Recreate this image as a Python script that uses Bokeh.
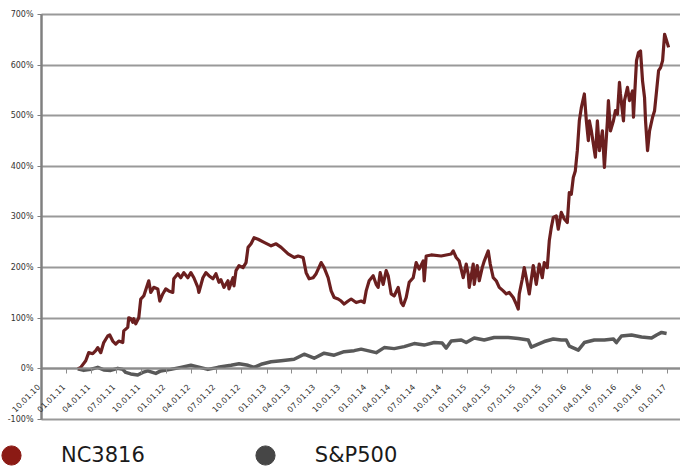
import numpy as np
import pandas as pd
from bokeh.plotting import figure
from bokeh.models import (Range1d, FixedTicker, PrintfTickFormatter, Legend, LegendItem,
                          ColumnDataSource)
from bokeh.core.properties import value
from bokeh.embed import file_html
from bokeh.resources import INLINE

# ---- data (decimal years, cumulative return in %) ----
nc_year = [2011.11, 2011.14, 2011.19, 2011.22, 2011.26, 2011.29, 2011.31, 2011.34, 2011.37, 2011.41,
           2011.43, 2011.46, 2011.49, 2011.52, 2011.56, 2011.57, 2011.61, 2011.62, 2011.64, 2011.66,
           2011.67, 2011.69, 2011.72, 2011.74, 2011.77, 2011.81, 2011.82, 2011.84, 2011.87, 2011.91,
           2011.93, 2011.96, 2011.99, 2012.02, 2012.06, 2012.07, 2012.11, 2012.14, 2012.17, 2012.21,
           2012.24, 2012.27, 2012.31, 2012.32, 2012.36, 2012.39, 2012.42, 2012.46, 2012.49, 2012.52,
           2012.54, 2012.57, 2012.61, 2012.62, 2012.66, 2012.67, 2012.69, 2012.72, 2012.76, 2012.79,
           2012.81, 2012.84, 2012.87, 2012.91, 2012.97, 2013.04, 2013.09, 2013.14, 2013.21, 2013.27,
           2013.31, 2013.36, 2013.39, 2013.42, 2013.46, 2013.49, 2013.54, 2013.57, 2013.61, 2013.64,
           2013.67, 2013.71, 2013.74, 2013.77, 2013.81, 2013.84, 2013.89, 2013.94, 2013.97, 2013.99,
           2014.02, 2014.06, 2014.09, 2014.11, 2014.13, 2014.16, 2014.19, 2014.21, 2014.24, 2014.27,
           2014.31, 2014.34, 2014.36, 2014.39, 2014.42, 2014.46, 2014.49, 2014.52, 2014.56, 2014.57,
           2014.59, 2014.64, 2014.74, 2014.79, 2014.84, 2014.86, 2014.89, 2014.92, 2014.96, 2014.99,
           2015.01, 2015.02, 2015.06, 2015.07, 2015.10, 2015.12, 2015.15, 2015.17, 2015.21, 2015.23,
           2015.26, 2015.29, 2015.32, 2015.36, 2015.39, 2015.42, 2015.46, 2015.49, 2015.51, 2015.52,
           2015.55, 2015.57, 2015.59, 2015.62, 2015.66, 2015.69, 2015.72, 2015.75, 2015.77, 2015.80,
           2015.82, 2015.84, 2015.86, 2015.89, 2015.91, 2015.94, 2015.97, 2016.00, 2016.02, 2016.04,
           2016.06, 2016.08, 2016.10, 2016.12, 2016.14, 2016.17, 2016.19, 2016.21, 2016.22, 2016.24,
           2016.26, 2016.28, 2016.30, 2016.32, 2016.35, 2016.37, 2016.40, 2016.41, 2016.43, 2016.46,
           2016.48, 2016.50, 2016.52, 2016.53, 2016.56, 2016.57, 2016.60, 2016.62, 2016.65, 2016.66,
           2016.67, 2016.69, 2016.71, 2016.73, 2016.75, 2016.77, 2016.78, 2016.80, 2016.82, 2016.85,
           2016.87, 2016.89, 2016.91, 2016.93, 2016.95, 2016.97, 2016.99, 2017.01]
nc_pct = [0, 3, 16, 32, 30, 36, 42, 32, 52, 65,
          67, 55, 49, 55, 52, 75, 82, 101, 99, 92,
          99, 89, 101, 138, 144, 168, 174, 151, 161, 158,
          134, 148, 158, 154, 151, 178, 188, 180, 190, 180,
          190, 180, 161, 151, 180, 190, 184, 178, 188, 171,
          176, 161, 174, 158, 180, 164, 194, 204, 200, 210,
          240, 247, 259, 256, 250, 243, 247, 240, 227, 220,
          223, 220, 190, 178, 180, 188, 210, 200, 180, 154,
          141, 138, 134, 128, 134, 138, 131, 134, 131, 154,
          174, 184, 167, 161, 190, 167, 194, 184, 148, 144,
          161, 131, 125, 141, 171, 180, 210, 197, 213, 174,
          223, 225, 223, 225, 227, 233, 220, 213, 180, 207,
          187, 161, 207, 167, 204, 174, 200, 213, 233, 207,
          180, 174, 161, 154, 148, 151, 141, 128, 118, 148,
          177, 200, 180, 148, 204, 167, 207, 180, 210, 200,
          253, 279, 299, 302, 276, 309, 296, 289, 348, 345,
          378, 391, 431, 490, 516, 543, 490, 451, 490, 470,
          444, 418, 490, 431, 470, 398, 490, 530, 470, 490,
          510, 503, 566, 543, 490, 530, 556, 530, 549, 497,
          536, 609, 625, 628, 569, 536, 490, 431, 470, 497,
          510, 549, 589, 595, 609, 661, 648, 635]

sp_year = [2011.11, 2011.17, 2011.24, 2011.31, 2011.37, 2011.44, 2011.51, 2011.56, 2011.59, 2011.64,
           2011.71, 2011.76, 2011.81, 2011.89, 2011.94, 2012.04, 2012.14, 2012.24, 2012.31, 2012.41,
           2012.51, 2012.64, 2012.72, 2012.81, 2012.87, 2012.94, 2013.04, 2013.14, 2013.27, 2013.37,
           2013.47, 2013.57, 2013.67, 2013.77, 2013.87, 2013.94, 2014.09, 2014.17, 2014.27, 2014.37,
           2014.47, 2014.57, 2014.67, 2014.75, 2014.79, 2014.84, 2014.94, 2014.99, 2015.07, 2015.17,
           2015.27, 2015.41, 2015.51, 2015.61, 2015.64, 2015.71, 2015.77, 2015.86, 2015.94, 2015.99,
           2016.02, 2016.11, 2016.17, 2016.27, 2016.37, 2016.46, 2016.49, 2016.54, 2016.64, 2016.74,
           2016.84, 2016.89, 2016.94, 2016.99]
sp_pct = [0, -3, -1, 3, -2, -3, 1, -1, -7, -10,
          -12, -7, -4, -9, -4, -1, 3, 7, 4, -1,
          3, 7, 10, 7, 3, 9, 14, 16, 19, 29,
          21, 31, 27, 34, 36, 39, 32, 42, 40, 44,
          50, 47, 52, 51, 41, 55, 57, 52, 61, 57,
          62, 62, 60, 57, 43, 49, 54, 59, 57, 57,
          45, 37, 52, 57, 57, 59, 52, 65, 67, 63,
          61, 67, 72, 70]

x_tick_labels = ["10.01.10", "01.01.11", "04.01.11", "07.01.11", "10.01.11", "01.01.12", "04.01.12",
                 "07.01.12", "10.01.12", "01.01.13", "04.01.13", "07.01.13", "10.01.13", "01.01.14",
                 "04.01.14", "07.01.14", "10.01.14", "01.01.15", "04.01.15", "07.01.15", "10.01.15",
                 "01.01.16", "04.01.16", "07.01.16", "10.01.16", "01.01.17"]
y_ticks = [-100, 0, 100, 200, 300, 400, 500, 600, 700]
series_names = ["NC3816", "S&P500"]


def to_dates(years):
    out = []
    for y in years:
        yi = int(y)
        a = pd.Timestamp(year=yi, month=1, day=1)
        b = pd.Timestamp(year=yi + 1, month=1, day=1)
        out.append(a + (b - a) * (y - yi))
    return out


def to_ms(d):
    return (d - pd.Timestamp("1970-01-01")) / pd.Timedelta(milliseconds=1)


nc_dates = to_dates(nc_year)
sp_dates = to_dates(sp_year)
tick_dates = list(pd.to_datetime(x_tick_labels, format="%m.%d.%y"))
tick_ms = [to_ms(d) for d in tick_dates]

FONT = "DejaVu Sans"
W, H = 680, 468
PLOT_LEFT = 41           # px where the plotting area starts
X_START = pd.Timestamp("2010-10-01")
X_END = pd.Timestamp("2017-02-17")
# the frame covers the whole canvas; the y axis sits at X_START, the legend strip below -100%
x_lo = X_START - (X_END - X_START) * PLOT_LEFT / (W - PLOT_LEFT)
Y_TOP, Y_BOT = 727.65, -196.8

p = figure(width=W, height=H, x_axis_type="datetime", output_backend="svg",
           toolbar_location=None,
           x_range=Range1d(x_lo, X_END), y_range=Range1d(Y_BOT, Y_TOP),
           min_border_left=0, min_border_right=0, min_border_top=0, min_border_bottom=0)
p.outline_line_color = None
p.background_fill_color = "white"

# y axis (at the start of the time range) and horizontal grid
p.yaxis.fixed_location = to_ms(X_START)
p.yaxis.bounds = (y_ticks[0], y_ticks[-1])
p.yaxis.ticker = FixedTicker(ticks=y_ticks)
p.yaxis.formatter = PrintfTickFormatter(format="%d%%")
p.yaxis.major_tick_out = 4
p.yaxis.major_tick_in = 0
p.yaxis.minor_tick_line_color = None
p.yaxis.axis_line_color = "#7f7f7f"
p.yaxis.axis_line_width = 2
p.yaxis.major_tick_line_color = "#7f7f7f"
p.yaxis.major_label_standoff = 4
p.yaxis.major_label_text_font = FONT
p.yaxis.major_label_text_font_size = "8px"
p.yaxis.major_label_text_color = "#333333"

p.xgrid.grid_line_color = None
try:
    p.ygrid.ticker = FixedTicker(ticks=y_ticks)
    p.ygrid.cross_bounds = (to_ms(X_START), to_ms(X_END))
    p.ygrid.grid_line_color = "#999999"
    p.ygrid.grid_line_width = 2
except Exception:
    p.ygrid.grid_line_color = None
    n = len(y_ticks)
    p.segment(x0=[X_START] * n, x1=[X_END] * n, y0=y_ticks, y1=y_ticks,
              line_color="#999999", line_width=2, level="underlay")

# vertical axis rule over the value span
p.segment(x0=[X_START], x1=[X_START], y0=[y_ticks[0]], y1=[y_ticks[-1]],
          line_color="#8a8a8a", line_width=2)

# x axis crossing at 0%
p.xaxis.fixed_location = 0
p.xaxis.bounds = (X_START, X_END)
p.xaxis.ticker = FixedTicker(ticks=tick_ms)
p.xaxis.major_label_text_font_size = "0px"
p.xaxis.major_label_text_alpha = 0
p.xaxis.major_tick_out = 5
p.xaxis.major_tick_in = 0
p.xaxis.minor_tick_line_color = None
p.xaxis.axis_line_color = "#8c8c8c"
p.xaxis.axis_line_width = 2
p.xaxis.major_tick_line_color = "#8c8c8c"

tick_src = ColumnDataSource(dict(x=tick_dates, y=[0] * len(tick_dates), t=x_tick_labels))
try:
    from bokeh.models import HTMLLabelSet
    p.add_layout(HTMLLabelSet(x="x", y="y", text="t", source=tick_src, angle=np.pi / 4,
                              text_align="right", text_baseline="middle",
                              x_offset=-2, y_offset=-17.5,
                              text_font=value(FONT), text_font_size="8px",
                              text_color="#333333"))
except Exception:
    p.text(x="x", y="y", text="t", source=tick_src, angle=np.pi / 4,
           text_align="right", text_baseline="middle", x_offset=-1, y_offset=15,
           text_font=value(FONT), text_font_size="8px", text_color="#333333")

# series
p.line(sp_dates, sp_pct, line_color="#595959", line_width=3.5, line_join="round")
p.line(nc_dates, nc_pct, line_color="#6b1f1f", line_width=3.2, line_join="round")

# legend swatches (hidden renderers, shown only in the legend)
nc_key = p.scatter(x=[nc_dates[-1]], y=[nc_pct[-1]], size=19,
                   fill_color="#8b1a14", line_color="#8b1a14", visible=False)
sp_key = p.scatter(x=[sp_dates[-1]], y=[sp_pct[-1]], size=19,
                   fill_color="#464646", line_color="#464646", visible=False)

legend = Legend(items=[LegendItem(label=series_names[0], renderers=[nc_key]),
                       LegendItem(label=series_names[1], renderers=[sp_key])],
                orientation="horizontal", location=(-14, -11),
                glyph_width=50, glyph_height=48, padding=0, margin=0, spacing=95,
                label_standoff=25, label_text_font=FONT, label_text_font_size="21px",
                label_text_color="#1a1a1a", border_line_color=None, background_fill_alpha=0,
                inactive_fill_alpha=0)
p.add_layout(legend, "center")

open("out.html", "w").write(file_html(p, INLINE))
